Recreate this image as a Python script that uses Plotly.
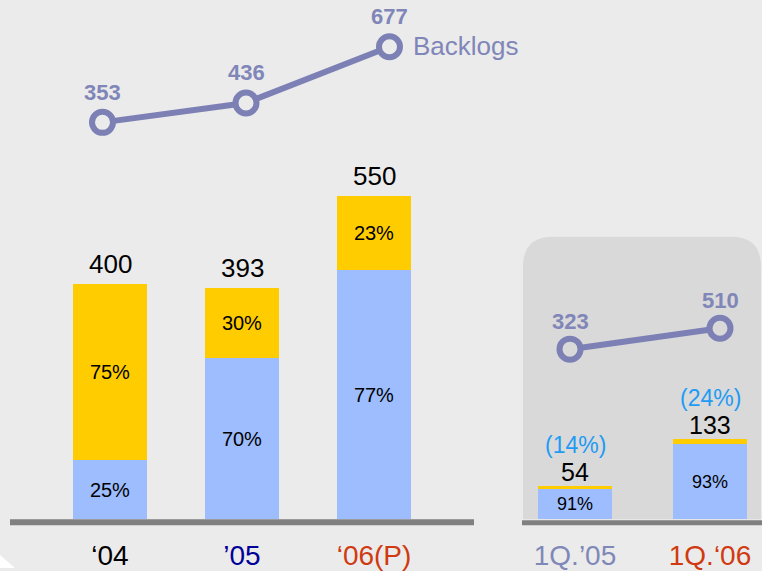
import plotly.graph_objects as go

# ---- data ----
years = ["\u201804", "\u201905", "\u201806(P)"]
year_totals = [400, 393, 550]
year_share_a = [25, 70, 77]      # blue segment (%)
year_share_b = [75, 30, 23]      # yellow segment (%)
year_backlogs = [353, 436, 677]

quarters = ["1Q.\u201905", "1Q.\u201806"]
q_totals = [54, 133]
q_share_a = [91, 93]
q_share_b = [9, 7]
q_growth = ["(14%)", "(24%)"]
q_backlogs = [323, 510]

year_tick_colors = ["#000000", "#000099", "#D03A10"]
q_tick_colors = ["#8088B8", "#D03A10"]

# ---- styling ----
W, H = 762, 571
BG = "#EBEBEB"
PANEL = "#D9D9D9"
BLUE = "#9DBDFF"
YELLOW = "#FFCC00"
LINEC = "#7C80B4"
LABELC = "#8086B8"
FONT = "Arial, Liberation Sans, sans-serif"

base_px = 522
ydom = [(H - base_px) / H, 1.0]
plot_h = base_px

def px(x):
    return x / W

def py(y):
    return 1 - y / H

fig = go.Figure()

blue_vals = [t * s / 100 for t, s in zip(year_totals, year_share_a)]
yel_vals = [t * s / 100 for t, s in zip(year_totals, year_share_b)]
fig.add_trace(go.Bar(x=years, y=blue_vals, text=[f"{s}%" for s in year_share_a],
                     marker=dict(color=BLUE, line=dict(width=0)), width=0.56,
                     textposition="inside", insidetextanchor="middle", constraintext="none",
                     textangle=0, textfont=dict(size=20, color="black", family=FONT),
                     xaxis="x", yaxis="y", hoverinfo="skip"))
fig.add_trace(go.Bar(x=years, y=yel_vals, text=[f"{s}%" for s in year_share_b],
                     marker=dict(color=YELLOW, line=dict(width=0)), width=0.56,
                     textposition="inside", insidetextanchor="middle", constraintext="none",
                     textangle=0, textfont=dict(size=20, color="black", family=FONT),
                     xaxis="x", yaxis="y", hoverinfo="skip"))

qblue = [t * s / 100 for t, s in zip(q_totals, q_share_a)]
qyel = [t * s / 100 for t, s in zip(q_totals, q_share_b)]
fig.add_trace(go.Bar(x=quarters, y=qblue, text=[f"{s}%" for s in q_share_a],
                     marker=dict(color=BLUE, line=dict(width=0)), width=0.548,
                     textposition="inside", insidetextanchor="middle", constraintext="none",
                     textangle=0, textfont=dict(size=18, color="black", family=FONT),
                     xaxis="x2", yaxis="y2", hoverinfo="skip"))
fig.add_trace(go.Bar(x=quarters, y=qyel, text=["", ""],
                     marker=dict(color=YELLOW, line=dict(width=0)), width=0.548,
                     textposition="none",
                     xaxis="x2", yaxis="y2", hoverinfo="skip"))

# backlog lines
fig.add_trace(go.Scatter(x=years, y=year_backlogs, mode="lines+markers",
                         line=dict(color=LINEC, width=6),
                         marker=dict(symbol="circle", size=21, color=BG,
                                     line=dict(color=LINEC, width=6)),
                         xaxis="x3", yaxis="y3", hoverinfo="skip"))
fig.add_trace(go.Scatter(x=quarters, y=q_backlogs, mode="lines+markers",
                         line=dict(color=LINEC, width=6),
                         marker=dict(symbol="circle", size=21, color=PANEL,
                                     line=dict(color=LINEC, width=6)),
                         xaxis="x4", yaxis="y4", hoverinfo="skip"))

annotations = []
for c, t in zip(years, year_totals):
    annotations.append(dict(x=c, y=t, xref="x", yref="y", text=str(t), showarrow=False,
                            yshift=20, font=dict(size=26, color="black", family=FONT)))
for c, t, g in zip(quarters, q_totals, q_growth):
    annotations.append(dict(x=c, y=t, xref="x2", yref="y2", text=str(t), showarrow=False,
                            yshift=14, font=dict(size=25, color="black", family=FONT)))
    annotations.append(dict(x=c, y=t, xref="x2", yref="y2", text=g, showarrow=False,
                            yshift=41, font=dict(size=23, color="#1E9BF5", family=FONT)))
for c, v in zip(years, year_backlogs):
    annotations.append(dict(x=c, y=v, xref="x3", yref="y3", text=f"<b>{v}</b>", showarrow=False,
                            yshift=30, font=dict(size=22, color=LABELC, family=FONT)))
for c, v in zip(quarters, q_backlogs):
    annotations.append(dict(x=c, y=v, xref="x4", yref="y4", text=f"<b>{v}</b>", showarrow=False,
                            yshift=28, font=dict(size=22, color=LABELC, family=FONT)))
annotations.append(dict(x=years[-1], y=year_backlogs[-1], xref="x3", yref="y3", text="Backlogs",
                        showarrow=False, xanchor="left", xshift=22, yshift=1,
                        font=dict(size=26, color=LABELC, family=FONT)))

shapes = [
    # rounded panel
    dict(type="path", xref="paper", yref="paper", layer="below",
         path=(f"M {px(523)},{py(522)} L {px(523)},{py(268)} Q {px(523)},{py(238)} {px(553)},{py(238)} "
               f"L {px(731)},{py(238)} Q {px(761)},{py(238)} {px(761)},{py(268)} "
               f"L {px(761)},{py(522)} Z"),
         fillcolor=PANEL, line=dict(width=0)),
    # white corner
    dict(type="path", xref="paper", yref="paper", layer="below",
         path=f"M {px(0)},{py(558)} L {px(0)},{py(571)} L {px(15)},{py(571)} Z",
         fillcolor="white", line=dict(width=0)),
    # baselines
    dict(type="line", xref="paper", yref="paper", x0=px(10), x1=px(474), y0=py(525), y1=py(525),
         line=dict(color="#808080", width=6), layer="above"),
    dict(type="line", xref="paper", yref="paper", x0=px(522), x1=px(762), y0=py(525.5), y1=py(525.5),
         line=dict(color="#808080", width=5), layer="above"),
]

left_dom = [px(44), px(440)]
right_dom = [px(522), 1.0]

def ticks(labels, colors):
    return [f"<span style='color:{c}'>{l}</span>" for l, c in zip(labels, colors)]

common_x = dict(showgrid=False, zeroline=False, showline=False, ticks="outside", ticklen=11,
                tickcolor="rgba(0,0,0,0)", fixedrange=True)
hidden = dict(visible=False, showgrid=False, zeroline=False, fixedrange=True)

fig.update_layout(
    width=W, height=H,
    margin=dict(l=0, r=0, t=0, b=0),
    paper_bgcolor=BG, plot_bgcolor="rgba(0,0,0,0)",
    barmode="stack", bargap=0, showlegend=False,
    font=dict(family=FONT),
    xaxis=dict(domain=left_dom, type="category", categoryorder="array", categoryarray=years,
               range=[-0.5, 2.5], tickvals=years, ticktext=ticks(years, year_tick_colors),
               tickfont=dict(size=28, family=FONT), anchor="y", **common_x),
    xaxis2=dict(domain=right_dom, type="category", categoryorder="array", categoryarray=quarters,
                range=[-0.3926, 1.3852], tickvals=quarters, ticktext=ticks(quarters, q_tick_colors),
                tickfont=dict(size=28, family=FONT), anchor="y2", **common_x),
    xaxis3=dict(overlaying="x", type="category", categoryorder="array", categoryarray=years,
                range=[-0.4077, 2.352], anchor="y3", **hidden),
    xaxis4=dict(overlaying="x2", type="category", categoryorder="array", categoryarray=quarters,
                range=[-0.32, 1.28], anchor="y4", **hidden),
    yaxis=dict(domain=ydom, range=[0, plot_h / 0.591], anchor="x", **hidden),
    yaxis2=dict(domain=ydom, range=[0, plot_h / 0.61], anchor="x2", **hidden),
    yaxis3=dict(overlaying="y", range=[353 - (522 - 123) / 0.2346, 353 + 123 / 0.2346],
                anchor="x3", **hidden),
    yaxis4=dict(overlaying="y2", range=[323 - (522 - 351) / 0.1123, 323 + 351 / 0.1123],
                anchor="x4", **hidden),
    annotations=annotations,
    shapes=shapes,
)

fig.write_html("out.html", config={"displayModeBar": False},
               post_script="document.body.style.margin='0';document.body.style.overflow='hidden';")
